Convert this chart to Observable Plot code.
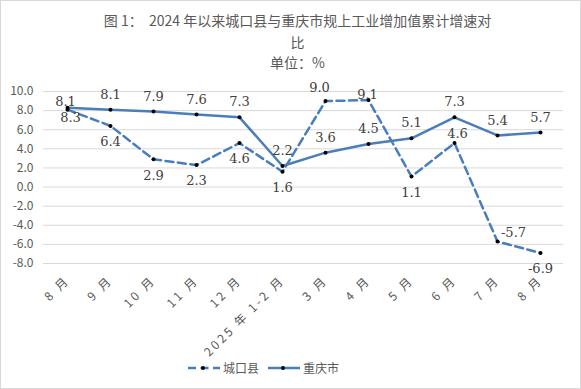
<!DOCTYPE html>
<html><head><meta charset="utf-8">
<script src="https://cdn.jsdelivr.net/npm/d3@7"></script>
<script src="https://cdn.jsdelivr.net/npm/@observablehq/plot@0.6"></script>
<style>
body{margin:0;background:#fff;}
#wrap{position:relative;width:581px;height:389px;overflow:hidden;font-family:"Noto Sans CJK SC",sans-serif;color:#595959;background:#fff;}
#chart{position:absolute;left:0;top:0;}
.t{position:absolute;left:7px;width:581px;text-align:center;white-space:pre;font-size:14px;line-height:20px;}
#border{position:absolute;left:0;top:0;width:581px;height:389px;box-sizing:border-box;border:1px solid #d9d9d9;pointer-events:none;}
.lg{position:absolute;font-size:12px;line-height:16px;}
#chart g[aria-label="x-axis tick label"] text{letter-spacing:2.6px;}
</style></head><body>
<div id="wrap">
  <div id="chart"></div>
  <div class="t" style="top:10px">图 1：  2024 年以来城口县与重庆市规上工业增加值累计增速对</div>
  <div class="t" style="top:32px">比</div>
  <div class="t" style="top:52px">单位：%</div>
  <div id="legend"></div>
  <div id="border"></div>
</div>
<script>
const categories = ["8 月","9 月","10 月","11 月","12 月","2025 年 1-2 月","3 月","4 月","5 月","6 月","7 月","8 月"];
const chengkou = [8.1, 6.4, 2.9, 2.3, 4.6, 1.6, 9.0, 9.1, 1.1, 4.6, -5.7, -6.9];
const chongqing = [8.3, 8.1, 7.9, 7.6, 7.3, 2.2, 3.6, 4.5, 5.1, 7.3, 5.4, 5.7];
const yTicks = [-8, -6, -4, -2, 0, 2, 4, 6, 8, 10];
const seriesNames = ["城口县", "重庆市"];

const blue = "#4a7ebb";
const ckRows = chengkou.map((v, i) => ({i, v, s: seriesNames[0]}));
const cqRows = chongqing.map((v, i) => ({i, v, s: seriesNames[1]}));

// label placement (style only)
const defaultOff = {[seriesNames[0]]: [0, 16], [seriesNames[1]]: [0, -15]};
const exceptions = {
  [seriesNames[0]]: {0: [-2, -8], 6: [-6, -13], 7: [-1, -5], 9: [3, -9], 10: [16, -9]},
  [seriesNames[1]]: {0: [3, 10]}
};
const groups = d3.group([...ckRows, ...cqRows], d => {
  const o = (exceptions[d.s][d.i]) || defaultOff[d.s];
  return o.join(",");
});
const labelMarks = [...groups].map(([k, rows]) => {
  const [dx, dy] = k.split(",").map(Number);
  return Plot.text(rows, {x: "i", y: "v", text: d => d.v.toFixed(1), dx, dy,
    fontFamily: "DejaVu Serif", fontSize: 13, fill: "#404040", textAnchor: "middle", lineAnchor: "middle"});
});

const chart = Plot.plot({
  width: 581, height: 389,
  marginTop: 91, marginBottom: 126, marginLeft: 43, marginRight: 18,
  style: {fontFamily: "'Noto Sans CJK SC', sans-serif", color: "#595959", background: "transparent"},
  x: {type: "point", domain: d3.range(categories.length), padding: 0.5},
  y: {domain: [-8, 10]},
  marks: [
    Plot.gridY(yTicks, {stroke: "#d9d9d9", strokeOpacity: 1, strokeWidth: 1}),
    Plot.axisY({ticks: yTicks, tickFormat: d => d.toFixed(1), tickSize: 0, tickPadding: 10, fontSize: 12, label: null}),
    Plot.axisX({ticks: d3.range(categories.length), tickFormat: i => categories[i], tickRotate: -45, tickSize: 0, tickPadding: 15, fontSize: 12, label: null}),
    Plot.line(ckRows, {x: "i", y: "v", stroke: blue, strokeWidth: 2.5, strokeDasharray: "8,4.5"}),
    Plot.line(cqRows, {x: "i", y: "v", stroke: blue, strokeWidth: 2.5}),
    Plot.dot([...ckRows, ...cqRows], {x: "i", y: "v", r: 2, fill: "black"}),
    ...labelMarks
  ]
});
document.getElementById("chart").appendChild(chart);

// legend
const lg = document.getElementById("legend");
lg.innerHTML = `
<svg style="position:absolute;left:186px;top:362px" width="36" height="12">
  <line x1="2" x2="34" y1="6" y2="6" stroke="${blue}" stroke-width="2.5" stroke-dasharray="8,4.5"/>
  <circle cx="17" cy="6" r="2" fill="black"/></svg>
<div class="lg" style="left:223px;top:360px">${seriesNames[0]}</div>
<svg style="position:absolute;left:266px;top:362px" width="36" height="12">
  <line x1="2" x2="34" y1="6" y2="6" stroke="${blue}" stroke-width="2.5"/>
  <circle cx="17" cy="6" r="2" fill="black"/></svg>
<div class="lg" style="left:303px;top:360px">${seriesNames[1]}</div>`;
</script>
</body></html>
